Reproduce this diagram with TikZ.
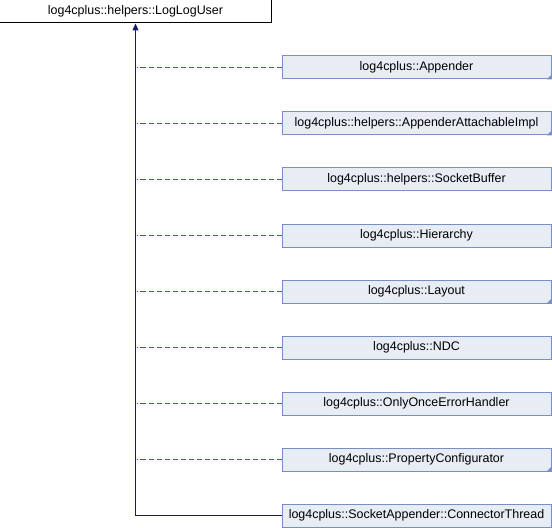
\documentclass[tikz,border=0pt]{standalone}
\usepackage{fontspec}
\setmainfont{Liberation Sans}
\usetikzlibrary{arrows.meta}

\definecolor{clsfill}{RGB}{232,236,244}
\definecolor{clsline}{RGB}{122,142,198}
\definecolor{inhblue}{RGB}{25,25,112}
\definecolor{protgreen}{RGB}{0,150,0}

\begin{document}
\begin{tikzpicture}[x = 1bp, y = -1bp,
    every node/.style = {inner sep = 0pt, minimum height = 23bp, line width = 1bp, font = \fontsize{12.5}{14}\selectfont},
    baseclass/.style = {draw = black, fill = white, minimum width = 271bp},
    derived/.style = {draw = clsline, fill = clsfill, minimum width = 269bp},
    protinh/.style = {draw = protgreen, line width = 1bp, dash pattern = on 5bp off 3bp},
    pubinh/.style = {draw = inhblue, line width = 1bp}]
  \useasboundingbox (0,0) rectangle (552,528);
  \node[baseclass] (loglog) at (135.5,11.5) {log4cplus::helpers::LogLogUser};
  % derived classes, top to bottom
  \foreach \name/\txt [count = \k from 0] in {
      appender/log4cplus::Appender,
      attachable/log4cplus::helpers::AppenderAttachableImpl,
      sockbuf/log4cplus::helpers::SocketBuffer,
      hierarchy/log4cplus::Hierarchy,
      layout/log4cplus::Layout,
      ndc/log4cplus::NDC,
      onceerr/log4cplus::OnlyOnceErrorHandler,
      propconf/log4cplus::PropertyConfigurator,
      connthread/log4cplus::SocketAppender::ConnectorThread}
    \node[derived] (\name) at (416.5, 67.5 + 56*\k) {\txt};
  % classes that have children of their own
  \foreach \name in {appender, attachable, layout, propconf}
    \fill[clsline] ([xshift = -5bp]\name.south east) -- (\name.south east) -- ([yshift = 5bp]\name.south east) -- cycle;
  \foreach \name in {appender, attachable, sockbuf, hierarchy, layout, ndc, onceerr, propconf}
    \draw[protinh] (\name.west) -- ([xshift = 1.5bp]\name.west -| loglog.south);
  \draw[pubinh, -{Triangle[length = 7bp, width = 6bp, fill = inhblue]}] (connthread.west) -| (loglog.south);
\end{tikzpicture}
\end{document}
